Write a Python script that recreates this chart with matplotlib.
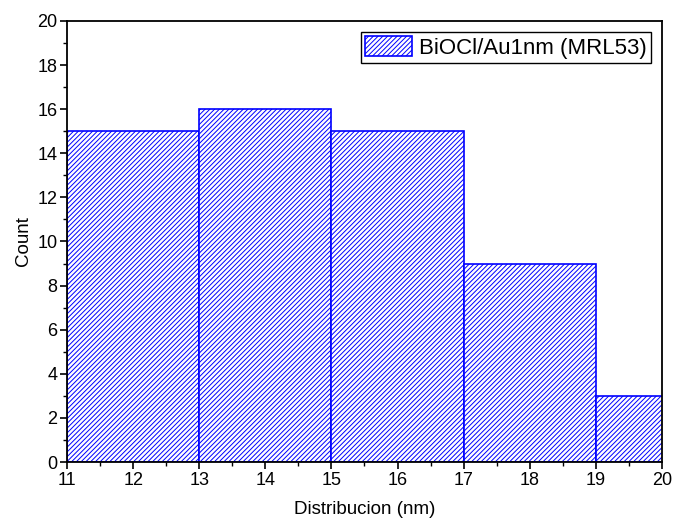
import matplotlib.pyplot as plt
from matplotlib.ticker import MultipleLocator

plt.rcParams['font.family'] = ['Liberation Sans', 'DejaVu Sans']
plt.rcParams['hatch.linewidth'] = 0.7
plt.rcParams['hatch.color'] = 'blue'

# histogram data: left bin edges, width and counts
bin_left = [11, 13, 15, 17, 19]
bin_width = 2
counts = [15, 16, 15, 9, 3]
label = "BiOCl/Au1nm (MRL53)"

fig = plt.figure(figsize=(6.73, 5.23), dpi=100)
ax = fig.add_axes([0.0996, 0.1166, 0.884, 0.8434])

ax.bar(bin_left, counts, width=bin_width, align='edge', facecolor='white',
       edgecolor='blue', hatch='///////', linewidth=1.2, label=label)

ax.set_xlim(11, 20)
ax.set_ylim(0, 20)
ax.xaxis.set_major_locator(MultipleLocator(1))
ax.xaxis.set_minor_locator(MultipleLocator(0.5))
ax.yaxis.set_major_locator(MultipleLocator(2))
ax.yaxis.set_minor_locator(MultipleLocator(1))
ax.tick_params(which='major', length=5, width=1.2, labelsize=13, direction='out', pad=2)
ax.tick_params(which='minor', length=3, width=1.0, direction='out')
for s in ax.spines.values():
    s.set_linewidth(1.3)

ax.set_xlabel("Distribucion (nm)", fontsize=13.5, labelpad=9)
ax.set_ylabel("Count", fontsize=13.5, labelpad=4)

leg = ax.legend(loc='upper right', fontsize=16, fancybox=False, framealpha=1,
                edgecolor='black', handlelength=2.1, handleheight=1.0,
                borderpad=0.2, handletextpad=0.3, borderaxespad=0.5)
leg.get_frame().set_linewidth(1.0)

fig.savefig("out.png", dpi=100)
